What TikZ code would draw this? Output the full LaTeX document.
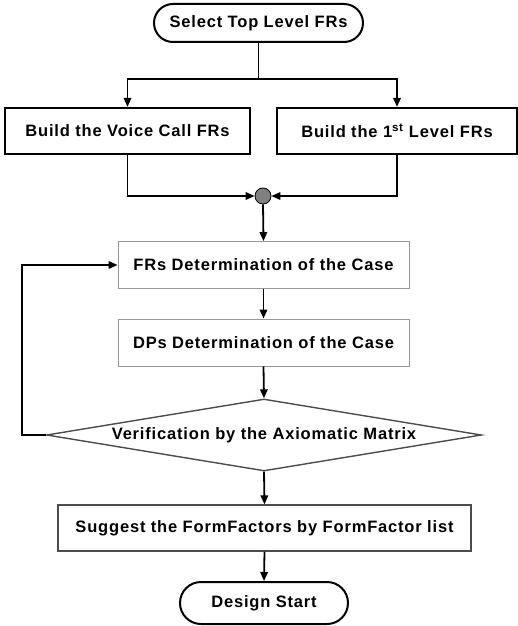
\documentclass[tikz,border=0pt]{standalone}
\usepackage{fontspec}
\setmainfont{Liberation Sans}[LetterSpace=5.0]
\usetikzlibrary{arrows.meta,shapes.geometric,shapes.misc}
\begin{document}
\begin{tikzpicture}[x=1pt,y=-1pt,
  every node/.style={font=\bfseries\fontsize{16.5}{19}\selectfont, inner sep=0pt},
  terminal/.style={rounded rectangle, draw=black, line width=2pt},
  thickbox/.style={rectangle, draw=black, line width=2.2pt},
  thinbox/.style={rectangle, draw=black!40, line width=0.9pt},
  suggestbox/.style={rectangle, draw=black!70, line width=1.2pt},
  check/.style={diamond, draw=black!70, line width=1.4pt, aspect=6},
  junction/.style={circle, draw=black, fill=black!50, line width=0.8pt, minimum size=16pt},
  link/.style={line width=1.8pt},
  arr/.style={link, -{Triangle[length=9pt,width=7.5pt]}}]
\useasboundingbox (0,0) rectangle (518,626);

% terminals, process boxes and the decision
\node[terminal, minimum width=209, minimum height=38] (top) at (258.5,23) {Select Top Level FRs};
\node[thickbox, minimum width=245, minimum height=46] (vc) at (127.5,131) {Build the Voice Call FRs};
\node[thickbox, minimum width=240, minimum height=46] (fl) at (397,131) {Build the 1\textsuperscript{st} Level FRs};
\node[junction] (j) at (263,196) {};
\node[thinbox, minimum width=291, minimum height=47] (frs) at (263.5,265) {FRs Determination of the Case};
\node[thinbox, minimum width=291, minimum height=47] (dps) at (263.5,342.5) {DPs Determination of the Case};
\node[check, minimum width=435, minimum height=72] (ver) at (264,435) {Verification by the Axiomatic Matrix};
\node[suggestbox, minimum width=413, minimum height=46] (sug) at (264.5,528) {Suggest the FormFactors by FormFactor list};
\node[terminal, minimum width=168, minimum height=42] (end) at (264,603) {Design Start};

% branch point below the first terminal
\coordinate (split) at (258.5,79);

% connectors
\draw[link] (top.south) -- (split);
\draw[arr] (split) -| (vc.north);
\draw[arr] (split) -| (fl.north);
\draw[arr] (vc.south) |- (j.west);
\draw[arr] (fl.south) |- (j.east);
\draw[arr] (j.south) -- (frs.north);
\draw[arr] (frs.south) -- (dps.north);
\draw[arr] (dps.south) -- (ver.north);
\draw[arr] (ver.west) -- ++(-23.5,0) |- (frs.west);
\draw[arr] (ver.south) -- (sug.north);
\draw[arr] (sug.south) -- (end.north);
\end{tikzpicture}
\end{document}
